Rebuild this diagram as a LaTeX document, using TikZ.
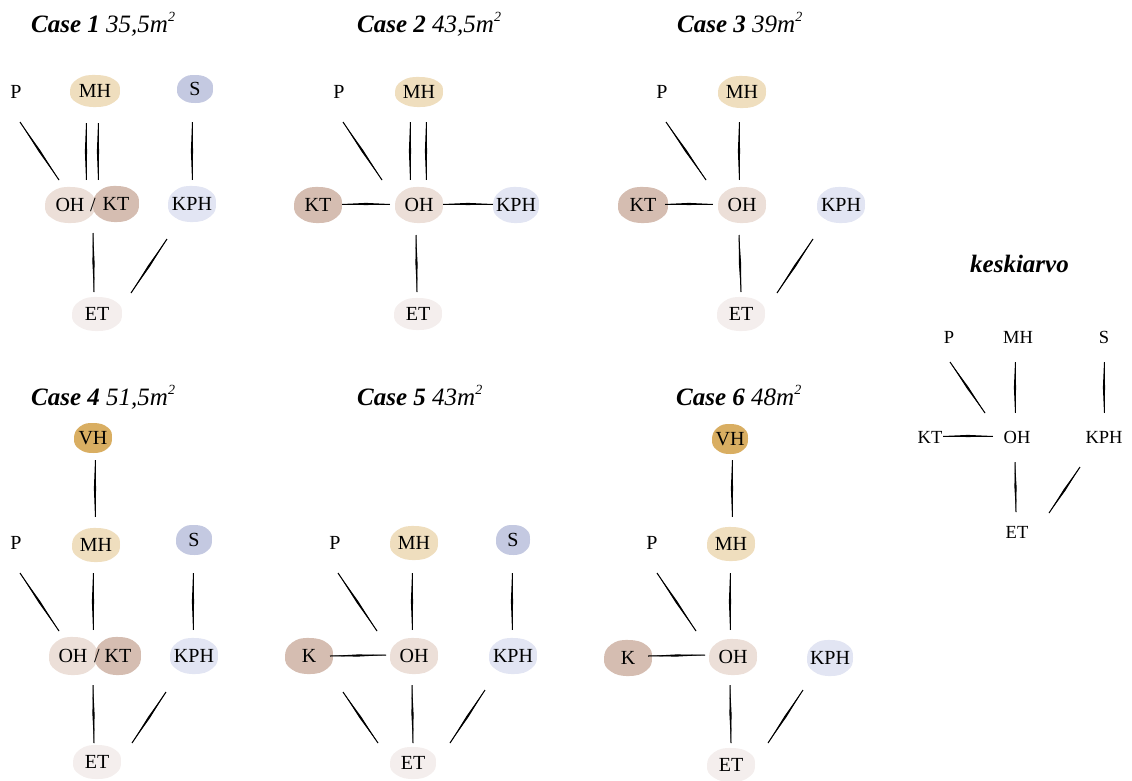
\documentclass[tikz,border=0pt]{standalone}
\usepackage{fontspec}
\setmainfont{Liberation Serif}
\usetikzlibrary{calc}
\definecolor{cMH}{RGB}{239,222,190}
\definecolor{cS}{RGB}{196,201,225}
\definecolor{cOH}{RGB}{236,223,216}
\definecolor{cKT}{RGB}{213,189,177}
\definecolor{cKPH}{RGB}{226,229,243}
\definecolor{cET}{RGB}{244,238,237}
\definecolor{cVH}{RGB}{217,174,98}
\tikzset{
  lbl/.style={inner sep=0pt, font=\fontsize{20}{24}\selectfont},
  klbl/.style={inner sep=0pt, font=\fontsize{18.5}{22}\selectfont},
  ttl/.style={inner sep=0pt, anchor=base west, font=\fontsize{25}{30}\selectfont},
}
% blob: name, x,y, rx, ry, colour, text
\newcommand\bnode[6]{%
  \fill[#5, shift={(#2)}] plot[smooth cycle, tension=0.8] coordinates
    {(#3,0) (0.76*#3,0.7*#4) (0.05*#3,#4) (-0.72*#3,0.74*#4) (-#3,0.03*#4)
     (-0.7*#3,-0.75*#4) (0.04*#3,-#4) (0.78*#3,-0.7*#4)};
  \node[lbl] (#1) at (#2) {#6};}
\newcommand\brush[2]{%
  \path ($#1$) coordinate (bA) ($#2$) coordinate (bB);
  \fill (bA) -- ($(bA)!.5!(bB)!1.1pt!90:(bB)$) -- (bB)
        -- ($(bA)!.5!(bB)!1.1pt!-90:(bB)$) -- cycle;
  \draw[line width=1pt] (bA) -- (bB);}
\newcommand\sqm{m\raisebox{0.42em}{\fontsize{14}{14}\selectfont 2}}
\newcommand\ttltext[2]{\textbf{\textit{#1}} \textit{#2}}
\begin{document}
\begin{tikzpicture}[x=1pt,y=-1pt]
\useasboundingbox (0,0) rectangle (1132,780);
% ---------------- Case 1
\node[ttl] (t1) at (31,32) {\ttltext{Case 1}{35,5\sqm}};
\node[lbl] (c1P) at (16,92) {P};
\bnode{c1MH}{95,91}{25}{16}{cMH}{MH}
\bnode{c1S}{195,89}{18}{14}{cS}{S}
\bnode{c1OH}{70,205}{25}{18}{cOH}{OH}
\bnode{c1KT}{116,204}{23}{18}{cKT}{KT}
\node[lbl] (c1sl) at (93,205) {/};
\bnode{c1KPH}{192,204}{24}{18}{cKPH}{KPH}
\bnode{c1ET}{97,314}{25}{17}{cET}{ET}
\brush{(c1P)+(4,30)}{(c1OH)+(-11,-25)}
\brush{(c1MH)+(-9,32)}{(c1OH)+(16,-25)}
\brush{(c1MH)+(3,32)}{(c1KT)+(-18,-24)}
\brush{(c1S)+(-3,33)}{(c1KPH)+(0,-24)}
\brush{(c1OH)+(23,28)}{(c1ET)+(-3,-22)}
\brush{(c1KPH)+(-25,35)}{(c1ET)+(34,-21)}
% ---------------- Case 2
\node[ttl] (t2) at (357,32) {\ttltext{Case 2}{43,5\sqm}};
\node[lbl] (c2P) at (339,92) {P};
\bnode{c2MH}{419,92}{24}{15}{cMH}{MH}
\bnode{c2KT}{318,205}{24}{18}{cKT}{KT}
\bnode{c2OH}{419,205}{24}{18}{cOH}{OH}
\bnode{c2KPH}{516,205}{23}{18}{cKPH}{KPH}
\bnode{c2ET}{418,314}{24}{16}{cET}{ET}
\brush{(c2P)+(4,30)}{(c2OH)+(-37,-25)}
\brush{(c2MH)+(-9,30)}{(c2OH)+(-9,-25)}
\brush{(c2MH)+(7,30)}{(c2OH)+(7,-25)}
\brush{(c2KT)+(24,-1)}{(c2OH)+(-29,-1)}
\brush{(c2OH)+(24,-1)}{(c2KPH)+(-23,-1)}
\brush{(c2OH)+(-3,30)}{(c2ET)+(-1,-22)}
% ---------------- Case 3
\node[ttl] (t3) at (677,32) {\ttltext{Case 3}{39\sqm}};
\node[lbl] (c3P) at (662,92) {P};
\bnode{c3MH}{742,92}{24}{16}{cMH}{MH}
\bnode{c3KT}{643,205}{25}{18}{cKT}{KT}
\bnode{c3OH}{742,205}{24}{18}{cOH}{OH}
\bnode{c3KPH}{841,205}{24}{18}{cKPH}{KPH}
\bnode{c3ET}{741,314}{24}{17}{cET}{ET}
\brush{(c3P)+(4,30)}{(c3OH)+(-36,-25)}
\brush{(c3MH)+(-3,30)}{(c3OH)+(-3,-25)}
\brush{(c3KT)+(22,-1)}{(c3OH)+(-29,-1)}
\brush{(c3OH)+(-3,30)}{(c3ET)+(0,-22)}
\brush{(c3KPH)+(-28,34)}{(c3ET)+(36,-21)}
% ---------------- keskiarvo
\node[ttl] (tk) at (970,272) {\textbf{\textit{keskiarvo}}};
\node[klbl] (kP) at (949,337) {P};
\node[klbl] (kMH) at (1018,337) {MH};
\node[klbl] (kS) at (1104,337) {S};
\node[klbl] (kKT) at (930,437) {KT};
\node[klbl] (kOH) at (1017,437) {OH};
\node[klbl] (kKPH) at (1104,437) {KPH};
\node[klbl] (kET) at (1017,532) {ET};
\brush{(kP)+(1,25)}{(kOH)+(-32,-24)}
\brush{(kMH)+(-3,25)}{(kOH)+(-2,-24)}
\brush{(kS)+(0,25)}{(kKPH)+(0,-24)}
\brush{(kKT)+(13,-1)}{(kOH)+(-24,-1)}
\brush{(kOH)+(-2,25)}{(kET)+(-1,-20)}
\brush{(kKPH)+(-24,30)}{(kET)+(32,-19)}
% ---------------- Case 4
\node[ttl] (t4) at (31,405) {\ttltext{Case 4}{51,5\sqm}};
\bnode{c4VH}{93,438}{19}{15}{cVH}{VH}
\node[lbl] (c4P) at (16,543) {P};
\bnode{c4MH}{96,545}{24}{17}{cMH}{MH}
\bnode{c4S}{194,540}{18}{15}{cS}{S}
\bnode{c4OH}{73,656}{24}{19}{cOH}{OH}
\bnode{c4KT}{118,656}{23}{19}{cKT}{KT}
\node[lbl] (c4sl) at (97,656) {/};
\bnode{c4KPH}{194,656}{24}{18}{cKPH}{KPH}
\bnode{c4ET}{97,762}{24}{17}{cET}{ET}
\brush{(c4VH)+(2,22)}{(c4MH)+(-1,-28)}
\brush{(c4P)+(4,30)}{(c4OH)+(-14,-25)}
\brush{(c4MH)+(-3,28)}{(c4OH)+(20,-26)}
\brush{(c4S)+(-1,33)}{(c4KPH)+(-1,-26)}
\brush{(c4OH)+(20,29)}{(c4ET)+(-3,-19)}
\brush{(c4KPH)+(-28,36)}{(c4ET)+(35,-19)}
% ---------------- Case 5
\node[ttl] (t5) at (357,405) {\ttltext{Case 5}{43\sqm}};
\node[lbl] (c5P) at (335,543) {P};
\bnode{c5MH}{414,543}{24}{17}{cMH}{MH}
\bnode{c5S}{513,540}{17}{15}{cS}{S}
\bnode{c5K}{309,656}{24}{18}{cKT}{K}
\bnode{c5OH}{414,656}{24}{18}{cOH}{OH}
\bnode{c5KPH}{513,656}{24}{18}{cKPH}{KPH}
\bnode{c5ET}{413,763}{23}{16}{cET}{ET}
\brush{(c5P)+(3,30)}{(c5OH)+(-37,-25)}
\brush{(c5MH)+(-2,30)}{(c5OH)+(-2,-26)}
\brush{(c5S)+(-1,33)}{(c5KPH)+(-1,-26)}
\brush{(c5K)+(21,0)}{(c5OH)+(-28,-1)}
\brush{(c5K)+(34,36)}{(c5ET)+(-35,-20)}
\brush{(c5OH)+(-2,29)}{(c5ET)+(0,-20)}
\brush{(c5KPH)+(-28,34)}{(c5ET)+(37,-20)}
% ---------------- Case 6
\node[ttl] (t6) at (676,405) {\ttltext{Case 6}{48\sqm}};
\bnode{c6VH}{730,439}{18}{15}{cVH}{VH}
\node[lbl] (c6P) at (652,543) {P};
\bnode{c6MH}{731,544}{24}{17}{cMH}{MH}
\bnode{c6K}{628,658}{24}{18}{cKT}{K}
\bnode{c6OH}{733,657}{24}{18}{cOH}{OH}
\bnode{c6KPH}{830,658}{23}{18}{cKPH}{KPH}
\bnode{c6ET}{731,765}{24}{17}{cET}{ET}
\brush{(c6VH)+(2,21)}{(c6MH)+(1,-27)}
\brush{(c6P)+(5,30)}{(c6OH)+(-37,-26)}
\brush{(c6MH)+(-1,29)}{(c6OH)+(-3,-27)}
\brush{(c6K)+(20,-2)}{(c6OH)+(-28,-2)}
\brush{(c6OH)+(-3,28)}{(c6ET)+(0,-22)}
\brush{(c6KPH)+(-27,32)}{(c6ET)+(37,-22)}
\end{tikzpicture}
\end{document}
